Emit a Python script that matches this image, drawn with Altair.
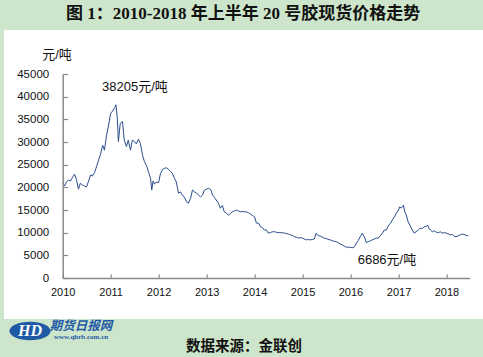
import altair as alt
import pandas as pd

# ---- data ----
dates = [
    "2010-01-01","2010-01-15","2010-02-01","2010-02-15","2010-03-01","2010-03-15","2010-04-01","2010-04-15",
    "2010-05-01","2010-05-15","2010-06-01","2010-06-15","2010-07-01","2010-07-15","2010-08-01","2010-08-15",
    "2010-09-01","2010-09-15","2010-10-01","2010-10-15","2010-11-01","2010-11-15","2010-12-01","2010-12-15",
    "2011-01-01","2011-01-15","2011-02-01","2011-02-10","2011-02-20","2011-03-01","2011-03-15","2011-04-01",
    "2011-04-15","2011-05-01","2011-05-15","2011-06-01","2011-06-15","2011-07-01","2011-07-15","2011-08-01",
    "2011-08-15","2011-09-01","2011-09-15","2011-10-01","2011-10-15","2011-11-01","2011-11-10","2011-11-20",
    "2011-12-01","2011-12-15",
    "2012-01-01","2012-01-15","2012-02-01","2012-02-15","2012-03-01","2012-03-15","2012-04-01","2012-04-15",
    "2012-05-01","2012-05-15","2012-06-01","2012-06-15","2012-07-01","2012-07-15","2012-08-01","2012-08-15",
    "2012-09-01","2012-09-15","2012-10-01","2012-10-15","2012-11-01","2012-11-15","2012-12-01","2012-12-15",
    "2013-01-01","2013-01-15","2013-02-01","2013-02-15","2013-03-01","2013-03-15","2013-04-01","2013-04-15",
    "2013-05-01","2013-05-15","2013-06-01","2013-06-15","2013-07-01","2013-07-15","2013-08-01","2013-08-15",
    "2013-09-01","2013-09-15","2013-10-01","2013-10-15","2013-11-01","2013-11-15","2013-12-01","2013-12-15",
    "2014-01-01","2014-01-15","2014-02-01","2014-02-15","2014-03-01","2014-03-15","2014-04-01","2014-04-15",
    "2014-05-01","2014-05-15","2014-06-01","2014-06-15","2014-07-01","2014-07-15","2014-08-01","2014-08-15",
    "2014-09-01","2014-09-15","2014-10-01","2014-10-15","2014-11-01","2014-11-15","2014-12-01","2014-12-15",
    "2015-01-01","2015-01-15","2015-02-01","2015-02-15","2015-03-01","2015-03-15","2015-04-01","2015-04-15",
    "2015-05-01","2015-05-15","2015-06-01","2015-06-15","2015-07-01","2015-07-15","2015-08-01","2015-08-15",
    "2015-09-01","2015-09-15","2015-10-01","2015-10-15","2015-11-01","2015-11-15","2015-12-01","2015-12-15",
    "2016-01-01","2016-01-20","2016-02-01","2016-02-15","2016-03-01","2016-03-15","2016-04-01","2016-04-10",
    "2016-04-20","2016-05-01","2016-05-15","2016-06-01","2016-06-15","2016-07-01","2016-07-15","2016-08-01",
    "2016-08-15","2016-09-01","2016-09-15","2016-10-01","2016-10-15","2016-11-01","2016-11-15","2016-12-01",
    "2016-12-15",
    "2017-01-01","2017-01-10","2017-01-20","2017-02-01","2017-02-08","2017-02-15","2017-03-01","2017-03-15",
    "2017-04-01","2017-04-15","2017-05-01","2017-05-15","2017-06-01","2017-06-15","2017-07-01","2017-07-15",
    "2017-08-01","2017-08-10","2017-08-20","2017-09-01","2017-09-15","2017-10-01","2017-10-15","2017-11-01",
    "2017-11-15","2017-12-01","2017-12-15",
    "2018-01-01","2018-01-15","2018-02-01","2018-02-15","2018-03-01","2018-03-15","2018-04-01","2018-04-15",
    "2018-05-01","2018-05-15","2018-06-01","2018-06-15",
]
prices = [
    21000,20300,21300,21600,21400,22100,22900,21800,
    19600,20900,20500,20300,20100,21200,22700,22500,
    23300,24500,26000,27200,29300,28200,31500,33500,
    36300,36800,37600,38205,35600,30100,34100,34500,
    30400,29000,30400,28200,30400,30100,29600,30600,
    29700,27100,25700,24800,23500,22000,19400,21400,
    20700,21200,
    21000,23000,24000,24200,24300,24000,23500,23100,
    22000,21200,18700,19000,18300,17800,16800,16500,
    17600,19400,19000,18700,18300,17900,18300,19400,
    19600,19800,19500,18300,17800,17200,16500,15400,
    16000,14600,14300,13900,14200,14600,14800,15000,
    14800,14600,14700,14600,14600,14400,14100,13800,
    13500,12100,12100,11300,11100,10600,10600,9900,
    10000,10200,10200,10100,10000,10000,10000,9900,
    9800,9700,9500,9400,9100,9000,8800,8900,
    8800,8600,8400,8500,8400,8500,8600,9900,
    9300,9300,9000,8800,8700,8500,8400,8200,
    8100,8000,7800,7500,7300,7000,6800,6800,
    6750,6686,6900,7700,8300,9100,9900,9300,
    8800,7800,8000,8200,8400,8600,8800,8800,
    9300,9900,10600,10600,11500,12100,12800,13500,
    14300,
    15000,15700,15400,15800,16100,14800,13900,12400,
    11500,10600,9900,10200,10600,11000,10900,11300,
    11400,11700,11000,10600,10200,10400,10100,10000,
    10200,9900,10000,
    9900,9700,9500,9600,9200,9100,9300,9500,
    9700,9600,9400,9300,
]
years = list(range(2010, 2019))
y_ticks = [0, 5000, 10000, 15000, 20000, 25000, 30000, 35000, 40000, 45000]

peak_date, peak_price, peak_label = "2011-02-10", 38205, "38205元/吨"
low_date, low_price, low_label = "2016-01-20", 6686, "6686元/吨"

title_text = "图 1：2010-2018 年上半年 20 号胶现货价格走势"
unit_text = "元/吨"
source_text = "数据来源：金联创"
logo_cn = "期货日报网"
logo_url = "www.qhrb.com.cn"

df = pd.DataFrame({"date": dates, "price": prices})

W, H = 407, 204
LINE_COLOR = "#2a4c8c"
AXIS_COLOR = "#8a8a8a"
SANS = "Liberation Sans, Noto Sans CJK SC"
TITLE_FONT = "Liberation Serif, Noto Sans CJK SC"

x_scale = alt.Scale(domain=[alt.DateTime(year=2010, month=1, date=1),
                            alt.DateTime(year=2018, month=6, date=27)])
y_scale = alt.Scale(domain=[0, 45000], nice=False)
x_vals = [alt.DateTime(year=y, month=1, date=1) for y in years]

base = alt.Chart(df)

line = base.mark_line(color=LINE_COLOR, strokeWidth=1).encode(
    x=alt.X("date:T", scale=x_scale, title=None,
            axis=alt.Axis(values=x_vals, format="%Y", ticks=False, tickSize=0, grid=False,
                          domainColor=AXIS_COLOR, domainWidth=1.5, labelFont=SANS,
                          labelFontSize=11, labelColor="#111", labelPadding=8, zindex=2,
                          labelFlush=False, labelAlign="center")),
    y=alt.Y("price:Q", scale=y_scale, title=None,
            axis=alt.Axis(values=y_ticks, format="d", ticks=False, tickSize=0, grid=False,
                          domainColor=AXIS_COLOR, domainWidth=1.5, labelFont=SANS,
                          labelFontSize=11.5, labelColor="#111", labelPadding=14, zindex=2,
                          labelFlush=False)),
)

# inward-pointing ticks: extra axes moved onto the plot edges
tick_layer = base.mark_line(opacity=0).encode(
    x=alt.X("date:T", scale=x_scale, title=None,
            axis=alt.Axis(orient="top", offset=-H, values=x_vals, labels=False, domain=False,
                          ticks=True, tickSize=4, tickColor=AXIS_COLOR, tickWidth=1.2, grid=False,
                          zindex=2)),
    y=alt.Y("price:Q", scale=y_scale, title=None,
            axis=alt.Axis(orient="right", offset=-W, values=y_ticks, labels=False, domain=False,
                          ticks=True, tickSize=5, tickColor=AXIS_COLOR, tickWidth=1.2, grid=False,
                          zindex=2)),
)

panel = alt.Chart(pd.DataFrame({"k": [0]})).mark_rect(color="white").encode(
    x=alt.value(-58.7), x2=alt.value(W + 14), y=alt.value(-44), y2=alt.value(245)
)

peak = alt.Chart(pd.DataFrame({"date": [peak_date], "price": [peak_price], "t": [peak_label]})).mark_text(
    font=SANS, fontSize=13, color="#111", dx=19, dy=-18
).encode(x=alt.X("date:T", scale=x_scale, axis=None), y=alt.Y("price:Q", scale=y_scale, axis=None), text="t:N")

low = alt.Chart(pd.DataFrame({"date": [low_date], "price": [low_price], "t": [low_label]})).mark_text(
    font=SANS, fontSize=13, color="#111", dx=34, dy=12
).encode(x=alt.X("date:T", scale=x_scale, axis=None), y=alt.Y("price:Q", scale=y_scale, axis=None), text="t:N")

one = pd.DataFrame({"t": [0]})
title = alt.Chart(pd.DataFrame({"t": [title_text]})).mark_text(
    font=TITLE_FONT, fontSize=17, fontWeight="bold", color="#111", baseline="middle"
).encode(x=alt.value(180.5), y=alt.value(-60), text="t:N")

unit = alt.Chart(pd.DataFrame({"t": [unit_text]})).mark_text(
    font=SANS, fontSize=13, color="#111", baseline="middle"
).encode(x=alt.value(-5.7), y=alt.value(-19), text="t:N")

source = alt.Chart(pd.DataFrame({"t": [source_text]})).mark_text(
    font="Noto Sans CJK SC", fontSize=14.5, fontWeight="bold", color="#111", baseline="middle"
).encode(x=alt.value(181.3), y=alt.value(273), text="t:N")

logo_shape = alt.Chart(one).mark_point(
    shape="M-1,0 A1,0.45 0 1,0 1,0 A1,0.45 0 1,0 -1,0 Z", size=1700, filled=True,
    color="#1f5aa6", opacity=1
).encode(x=alt.value(-32.7), y=alt.value(257))
logo_hd = alt.Chart(pd.DataFrame({"t": ["HD"]})).mark_text(
    font="Liberation Serif", fontSize=16, fontWeight="bold", fontStyle="italic", color="white", baseline="middle"
).encode(x=alt.value(-32.7), y=alt.value(257), text="t:N")
logo_cn_t = alt.Chart(pd.DataFrame({"t": [logo_cn]})).mark_text(
    font="Noto Sans CJK SC", fontSize=12.5, fontWeight="bold", fontStyle="italic", color="#1f5aa6", baseline="middle"
).encode(x=alt.value(18.3), y=alt.value(252), text="t:N")
logo_url_t = alt.Chart(pd.DataFrame({"t": [logo_url]})).mark_text(
    font="Liberation Serif", fontSize=7, fontWeight="bold", color="#1f5aa6", baseline="middle"
).encode(x=alt.value(18.3), y=alt.value(263), text="t:N")

chart = alt.layer(
    panel, line, tick_layer, peak, low, title, unit, source, logo_shape, logo_hd, logo_cn_t, logo_url_t
).resolve_axis(x="independent", y="independent").properties(
    width=W, height=H,
    autosize=alt.AutoSizeParams(type="none"),
    padding={"left": 62.7, "top": 74, "right": 13.3, "bottom": 79},
    background="#cde5ca",
).configure_view(stroke=None)

chart.save("out.html", embed_options={"renderer": "svg", "actions": False})
